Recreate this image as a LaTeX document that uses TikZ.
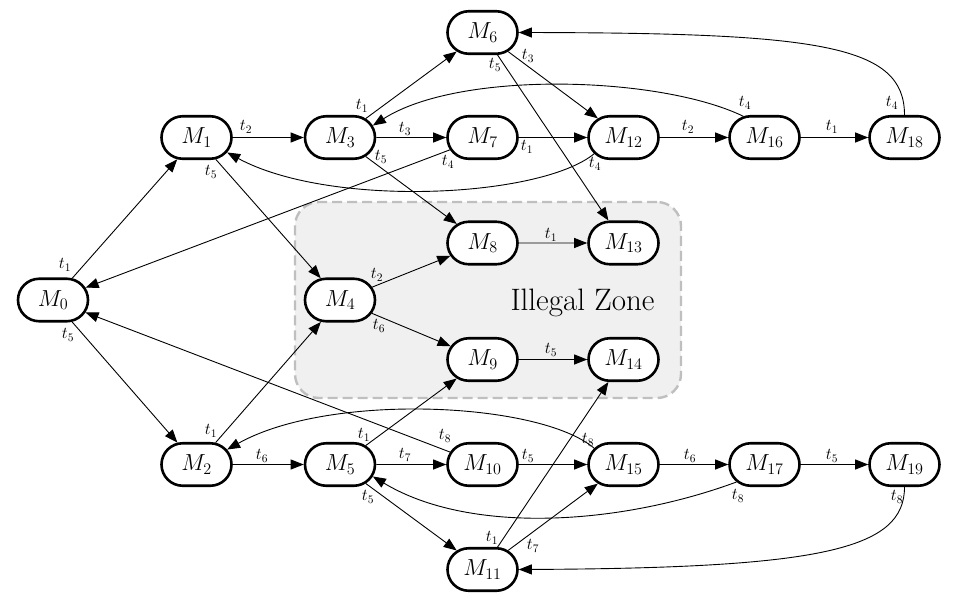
\RequirePackage{fix-cm}
\documentclass[tikz,border=0pt]{standalone}
\usetikzlibrary{shapes.misc,arrows.meta}
\definecolor{zonefill}{RGB}{240,240,240}
\definecolor{zonegray}{RGB}{191,191,191}
\newcommand{\mlab}[1]{\scalebox{1.12}{$M_{#1}$}}
\newcommand{\tlab}[1]{\scalebox{1.15}{$t_{#1}$}}
\begin{document}
\begin{tikzpicture}[x=1pt,y=-1pt,
  st/.style={rounded rectangle, draw=black, line width=2.6pt, fill=white,
    minimum width=72pt, minimum height=42.5pt, inner sep=1pt,
    font=\fontsize{20.74}{25}\selectfont},
  tl/.style={inner sep=0pt, font=\fontsize{14.4}{17}\selectfont},
  ar/.style={-{Triangle[length=13pt,width=10pt]}, line width=0.9pt},
  zone/.style={rectangle, draw=zonegray, fill=zonefill, line width=2.4pt,
    dash pattern=on 10pt off 5pt, rounded corners=24pt}
]
\useasboundingbox (0,0) rectangle (953,592);

% illegal zone
\node[zone, minimum width=386pt, minimum height=196pt] (zone) at (488,300) {};
\node[anchor=base, inner sep=0pt, font=\fontsize{31}{36}\selectfont] (zlabel) at (582.5,310) {Illegal Zone};

% states
\node[st] (m0) at (53,300) {\mlab{0}};
\node[st] (m1) at (196.5,137.5) {\mlab{1}};
\node[st] (m2) at (196.5,464.5) {\mlab{2}};
\node[st] (m3) at (340,137.5) {\mlab{3}};
\node[st] (m4) at (340,300) {\mlab{4}};
\node[st] (m5) at (340,464.5) {\mlab{5}};
\node[st] (m6) at (482.5,32.5) {\mlab{6}};
\node[st] (m7) at (482.5,137.5) {\mlab{7}};
\node[st] (m8) at (482.5,243) {\mlab{8}};
\node[st] (m9) at (482.5,359.5) {\mlab{9}};
\node[st] (m10) at (482.5,464.5) {\mlab{10}};
\node[st] (m11) at (482.5,569.5) {\mlab{11}};
\node[st] (m12) at (623.5,137.5) {\mlab{12}};
\node[st] (m13) at (623.5,243) {\mlab{13}};
\node[st] (m14) at (623.5,359.5) {\mlab{14}};
\node[st] (m15) at (623.5,464.5) {\mlab{15}};
\node[st] (m16) at (764.5,137.5) {\mlab{16}};
\node[st] (m17) at (764.5,464.5) {\mlab{17}};
\node[st] (m18) at (904.5,137.5) {\mlab{18}};
\node[st] (m19) at (904.5,464.5) {\mlab{19}};

% straight transitions
\draw[ar] (m0) -- (m1);
\draw[ar] (m0) -- (m2);
\draw[ar] (m1) -- (m3);
\draw[ar] (m1) -- (m4);
\draw[ar] (m3) -- (m6);
\draw[ar] (m3) -- (m7);
\draw[ar] (m3) -- (m8);
\draw[ar] (m7) -- (m12);
\draw[ar] (m7) -- (m0);
\draw[ar] (m6) -- (m12);
\draw[ar] (m6) -- (m13);
\draw[ar] (m12) -- (m16);
\draw[ar] (m16) -- (m18);
\draw[ar] (m8) -- (m13);
\draw[ar] (m4) -- (m8);
\draw[ar] (m4) -- (m9);
\draw[ar] (m9) -- (m14);
\draw[ar] (m2) -- (m4);
\draw[ar] (m2) -- (m5);
\draw[ar] (m5) -- (m9);
\draw[ar] (m5) -- (m10);
\draw[ar] (m5) -- (m11);
\draw[ar] (m10) -- (m0);
\draw[ar] (m10) -- (m15);
\draw[ar] (m15) -- (m17);
\draw[ar] (m17) -- (m19);
\draw[ar] (m11) -- (m14);
\draw[ar] (m11) -- (m15);

% curved transitions
\draw[ar] (m18.north) .. controls (904.5,45) and (820,33) .. (m6.east);
\draw[ar] (m16.135) .. controls (660,76) and (460,70) .. (m3.20);
\draw[ar] (m12.209) .. controls (540,198) and (330,208) .. (m1.334);
\draw[ar] (m15.151) .. controls (540,402) and (330,392) .. (m2.26);
\draw[ar] (m17.212) .. controls (620,525) and (470,535) .. (m5.340);
\draw[ar] (m19.south) .. controls (904.5,550) and (820,568) .. (m11.east);

% transition labels
\node[tl] (l01) at (65,265) {\tlab{1}};
\node[tl] (l02) at (68,335) {\tlab{5}};
\node[tl] (l13) at (246,127) {\tlab{2}};
\node[tl] (l14) at (211,172) {\tlab{5}};
\node[tl] (l36) at (362,106) {\tlab{1}};
\node[tl] (l37) at (405,129) {\tlab{3}};
\node[tl] (l38) at (381,157) {\tlab{5}};
\node[tl] (l70) at (448,162) {\tlab{4}};
\node[tl] (l712) at (527,147) {\tlab{1}};
\node[tl] (l121) at (595,164) {\tlab{4}};
\node[tl] (l612) at (528,56) {\tlab{3}};
\node[tl] (l613) at (495,65) {\tlab{5}};
\node[tl] (l1216) at (688,127) {\tlab{2}};
\node[tl] (l163) at (745,103) {\tlab{4}};
\node[tl] (l1618) at (832,127) {\tlab{1}};
\node[tl] (l186) at (892,103) {\tlab{4}};
\node[tl] (l813) at (551,235) {\tlab{1}};
\node[tl] (l48) at (377,275) {\tlab{2}};
\node[tl] (l49) at (379,326) {\tlab{6}};
\node[tl] (l914) at (551,350) {\tlab{5}};
\node[tl] (l24) at (211,431) {\tlab{1}};
\node[tl] (l25) at (262,456) {\tlab{6}};
\node[tl] (l59) at (364,435) {\tlab{1}};
\node[tl] (l510) at (405,455) {\tlab{7}};
\node[tl] (l511) at (368,497) {\tlab{5}};
\node[tl] (l100) at (445,436) {\tlab{8}};
\node[tl] (l1015) at (528,456) {\tlab{5}};
\node[tl] (l152) at (588,440) {\tlab{8}};
\node[tl] (l1517) at (690,456) {\tlab{6}};
\node[tl] (l1719) at (832,456) {\tlab{5}};
\node[tl] (l175) at (738,496) {\tlab{8}};
\node[tl] (l1911) at (897,497) {\tlab{8}};
\node[tl] (l1114) at (492,538) {\tlab{1}};
\node[tl] (l1115) at (533,546) {\tlab{7}};
\end{tikzpicture}
\end{document}
